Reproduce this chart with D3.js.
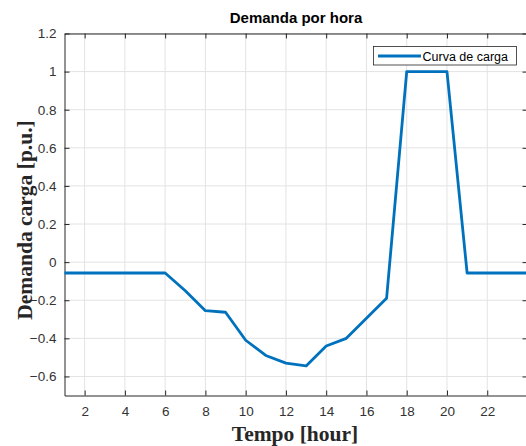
<!DOCTYPE html>
<html>
<head>
<meta charset="utf-8">
<script src="https://cdn.jsdelivr.net/npm/d3@7"></script>
<style>
  body { margin: 0; background: #fff; }
  .tick text { font-family: Arial, "Liberation Sans", sans-serif; font-size: 13.5px; fill: #333; }
</style>
</head>
<body>
<div id="chart"></div>
<script>
// hourly load curve data
var hours = [1,2,3,4,5,6,7,8,9,10,11,12,13,14,15,16,17,18,19,20,21,22,23,24];
var demand = [-0.057,-0.057,-0.057,-0.057,-0.057,-0.057,-0.15,-0.255,-0.263,-0.41,-0.49,-0.53,-0.545,-0.44,-0.40,-0.295,-0.19,1.0,1.0,1.0,-0.057,-0.057,-0.057,-0.057];
var xTicks = [2,4,6,8,10,12,14,16,18,20,22];
var yTicks = [-0.6,-0.4,-0.2,0,0.2,0.4,0.6,0.8,1,1.2];
var seriesName = "Curva de carga";

var W = 526, H = 446;
var m = {l: 64.5, r: 527.5, t: 33.5, b: 395.5};
var lineColor = "#0072BD", axisColor = "#262626", gridColor = "#e3e3e3";

var svg = d3.select("#chart").append("svg")
    .attr("width", W).attr("height", H);

var x = d3.scaleLinear().domain([1, 24]).range([m.l, m.r]);
var y = d3.scaleLinear().domain([-0.7, 1.2]).range([m.b, m.t]);

// white plot background
svg.append("rect").attr("x", m.l).attr("y", m.t)
    .attr("width", m.r - m.l).attr("height", m.b - m.t).attr("fill", "#fff");

// grid lines
svg.append("g").selectAll("line").data(xTicks).enter().append("line")
    .attr("x1", function(d){ return x(d); }).attr("x2", function(d){ return x(d); })
    .attr("y1", m.t).attr("y2", m.b)
    .attr("stroke", gridColor).attr("stroke-width", 1);
svg.append("g").selectAll("line").data(yTicks).enter().append("line")
    .attr("x1", m.l).attr("x2", m.r)
    .attr("y1", function(d){ return y(d); }).attr("y2", function(d){ return y(d); })
    .attr("stroke", gridColor).attr("stroke-width", 1);

// axes (ticks point inward like matlab)
svg.append("g").attr("transform", "translate(0," + m.b + ")")
    .call(d3.axisBottom(x).tickValues(xTicks).tickSizeInner(-5).tickSizeOuter(0).tickPadding(11));
svg.append("g").attr("transform", "translate(" + m.l + ",0)")
    .call(d3.axisLeft(y).tickValues(yTicks).tickSizeInner(-5).tickSizeOuter(0).tickPadding(8)
        .tickFormat(function(d){ return d3.format("")(+d.toFixed(1)); }));
svg.append("g").attr("transform", "translate(0," + m.t + ")")
    .call(d3.axisTop(x).tickValues(xTicks).tickSizeInner(-5).tickSizeOuter(0).tickFormat(""));
svg.append("g").attr("transform", "translate(" + m.r + ",0)")
    .call(d3.axisRight(y).tickValues(yTicks).tickSizeInner(-5).tickSizeOuter(0).tickFormat(""));
svg.selectAll(".domain").attr("stroke", axisColor);
svg.selectAll(".tick line").attr("stroke", axisColor);

// the curve
var line = d3.line()
    .x(function(d, i){ return x(hours[i]); })
    .y(function(d){ return y(d); });
svg.append("path").datum(demand)
    .attr("d", line)
    .attr("fill", "none")
    .attr("stroke", lineColor)
    .attr("stroke-width", 2.8)
    .attr("stroke-linejoin", "round");

// title
svg.append("text").attr("x", 296).attr("y", 23)
    .attr("text-anchor", "middle")
    .style("font-family", "Arial, 'Liberation Sans', sans-serif")
    .style("font-weight", "bold").style("font-size", "15px")
    .attr("fill", "#000")
    .text("Demanda por hora");

// axis labels
svg.append("text").attr("x", 295).attr("y", 441)
    .attr("text-anchor", "middle")
    .style("font-family", "'Liberation Serif', 'Times New Roman', serif")
    .style("font-weight", "bold").style("font-size", "21.5px")
    .attr("fill", "#262626")
    .text("Tempo [hour]");
svg.append("text")
    .attr("transform", "translate(32,220) rotate(-90)")
    .attr("text-anchor", "middle")
    .style("font-family", "'Liberation Serif', 'Times New Roman', serif")
    .style("font-weight", "bold").style("font-size", "21.5px")
    .attr("fill", "#262626")
    .text("Demanda carga [p.u.]");

// legend
var leg = svg.append("g");
leg.append("rect").attr("x", 373.5).attr("y", 46.5).attr("width", 143).attr("height", 18.5)
    .attr("fill", "#fff").attr("stroke", axisColor).attr("stroke-width", 0.8);
leg.append("line").attr("x1", 378).attr("x2", 421).attr("y1", 56).attr("y2", 56)
    .attr("stroke", lineColor).attr("stroke-width", 2.8);
leg.append("text").attr("x", 422.5).attr("y", 60.5)
    .style("font-family", "Arial, 'Liberation Sans', sans-serif").style("font-size", "12.5px")
    .attr("fill", "#000")
    .text(seriesName);
</script>
</body>
</html>
